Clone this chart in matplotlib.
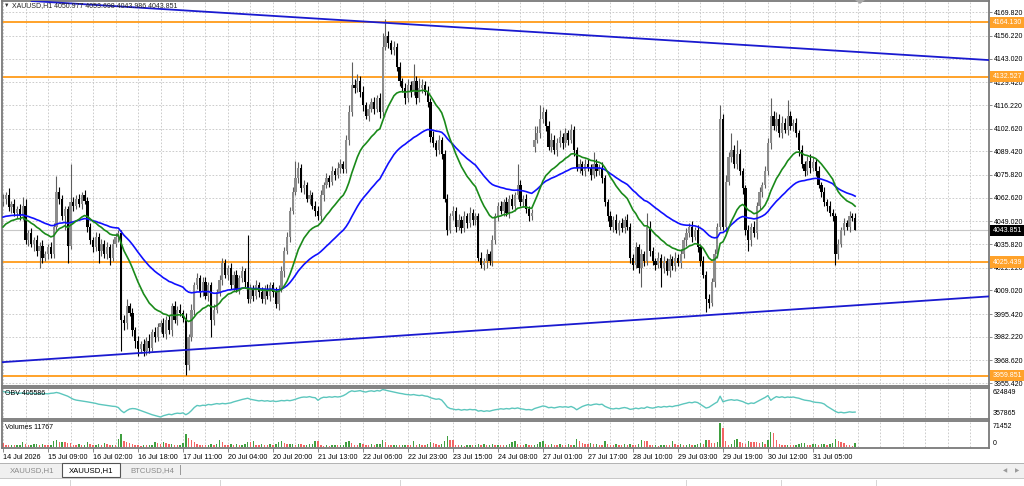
import matplotlib.pyplot as plt
import numpy as np
from matplotlib.patches import Rectangle, Polygon

# ---- data (XAUUSD H1, one value per bar) ----
closes = [
    4062, 4064, 4057, 4059, 4054, 4056, 4052, 4058,
    4038, 4042, 4036, 4038, 4032, 4035, 4028, 4030,
    4034, 4030, 4046, 4066, 4062, 4052, 4056, 4035,
    4060, 4058, 4062, 4059, 4064, 4061, 4046, 4038,
    4034, 4040, 4032, 4036, 4030, 4034, 4028, 4036,
    4040, 4042, 3992, 3990, 4000, 3996, 3986, 3980,
    3975, 3978, 3974, 3980, 3976, 3985, 3982, 3988,
    3990, 3984, 3992, 3986, 4000, 3992, 3998, 3996,
    3993, 3966, 3982, 3998, 4012, 4016, 4008, 4014,
    4006, 4012, 3992, 3998, 4008, 4015, 4025, 4018,
    4022, 4012, 4018, 4010, 4016, 4020, 4014, 4004,
    4010, 4006, 4012, 4008, 4004, 4010, 4006, 4012,
    4008, 4001, 4010, 4020, 4032, 4040, 4055, 4066,
    4074, 4080, 4068, 4070, 4062, 4064, 4058, 4055,
    4052, 4064, 4070, 4074, 4072, 4078, 4076, 4080,
    4082, 4079, 4096, 4112, 4128, 4126, 4130, 4124,
    4116, 4110, 4114, 4118, 4114, 4120, 4112, 4150,
    4156, 4152, 4148, 4150, 4138, 4130, 4126, 4120,
    4128, 4124, 4130, 4120, 4126, 4128, 4124, 4118,
    4098, 4094, 4090, 4096, 4088, 4062, 4044, 4052,
    4055, 4046, 4050, 4045, 4052, 4048, 4054, 4050,
    4052, 4028, 4024, 4026, 4030, 4026, 4038, 4052,
    4058, 4055, 4060, 4054, 4062, 4058, 4064, 4070,
    4060, 4062, 4056, 4052, 4054, 4096, 4100, 4108,
    4112, 4104, 4092, 4096, 4090, 4094, 4098, 4094,
    4100, 4096, 4102, 4090, 4080, 4082, 4078, 4082,
    4080, 4076, 4082, 4078, 4080, 4074, 4060, 4052,
    4046, 4050, 4044, 4048, 4045, 4050, 4046, 4028,
    4024, 4034, 4022, 4030, 4026, 4046, 4032, 4026,
    4024, 4028, 4022, 4026, 4020, 4027, 4023, 4028,
    4025, 4030, 4038, 4042, 4046, 4040, 4044, 4034,
    4026, 4018, 4004, 4002, 4014, 4030, 4046, 4108,
    4046, 4072, 4086, 4090, 4082, 4088, 4078, 4068,
    4044, 4038, 4046, 4042, 4058, 4066, 4070, 4078,
    4094, 4110, 4104, 4108, 4100, 4106, 4102, 4110,
    4104, 4106, 4100, 4090, 4082, 4078, 4084, 4080,
    4083, 4078, 4070, 4066, 4060, 4058, 4054, 4052,
    4030, 4036, 4044, 4048, 4046, 4052, 4050.977, 4043.851,
]
first_open = 4060
gap_bar, gap_open = 189, 4092   # weekend gap (Mon 27 Jul open)

upper_wick = [
    3, 2, 4, 2, 3, 2, 3, 5,   4, 2, 3, 2, 3, 2, 3, 2,
    2, 3, 2, 9, 3, 2, 2, 2,   22, 3, 2, 3, 2, 3, 2, 2,
    2, 3, 2, 3, 2, 3, 2, 3,   2, 2, 2, 3, 4, 2, 3, 2,
    3, 2, 3, 2, 4, 2, 3, 2,   2, 3, 2, 3, 2, 3, 2, 3,
    2, 3, 2, 3, 2, 3, 2, 3,   3, 2, 2, 3, 2, 3, 3, 2,
    2, 3, 2, 3, 2, 3, 2, 27,  3, 2, 3, 2, 3, 2, 3, 2,
    2, 3, 2, 3, 2, 3, 2, 3,   10, 3, 2, 3, 2, 3, 2, 3,
    3, 3, 2, 3, 2, 3, 2, 3,   3, 2, 3, 4, 13, 3, 4, 3,
    3, 2, 3, 2, 3, 2, 3, 8,   10, 3, 2, 3, 2, 3, 2, 3,
    3, 2, 10, 3, 6, 3, 2, 3,  2, 3, 2, 3, 2, 2, 3, 2,
    3, 2, 3, 2, 3, 2, 3, 2,   2, 2, 3, 2, 3, 2, 3, 2,
    2, 3, 2, 3, 2, 3, 2, 12,  3, 2, 3, 2, 2, 8, 4, 8,
    3, 2, 3, 4, 3, 3, 4, 2,   3, 2, 3, 2, 2, 3, 2, 3,
    3, 2, 7, 3, 2, 3, 2, 2,   3, 2, 3, 2, 3, 2, 3, 2,
    2, 3, 2, 3, 2, 8, 3, 2,   2, 3, 2, 3, 2, 3, 2, 3,
    2, 3, 2, 3, 2, 3, 2, 3,   2, 3, 2, 3, 2, 3, 2, 8,
    3, 4, 3, 10, 3, 8, 3, 2,  2, 3, 2, 3, 2, 3, 2, 3,
    3, 10, 3, 4, 3, 4, 3, 9,  3, 2, 3, 2, 3, 2, 3, 4,
    3, 2, 3, 2, 3, 2, 3, 2,   2, 3, 2, 3, 2, 3, 2, 2.7,
]
lower_wick = [
    2, 3, 2, 3, 2, 3, 2, 2,   2, 3, 2, 4, 3, 10, 3, 2,
    3, 2, 2, 2, 3, 2, 8, 10,  2, 3, 2, 2, 3, 2, 3, 2,
    3, 2, 7, 3, 2, 3, 4, 2,   2, 3, 18, 4, 3, 2, 3, 4,
    4, 2, 3, 2, 3, 2, 3, 2,   3, 2, 3, 2, 3, 2, 3, 2,
    2, 6, 3, 2, 3, 2, 3, 2,   2, 3, 10, 3, 2, 2, 3, 2,
    3, 2, 3, 2, 3, 2, 3, 2,   2, 3, 2, 3, 2, 3, 2, 3,
    3, 2, 3, 2, 3, 2, 3, 2,   2, 3, 2, 3, 2, 3, 2, 3,
    2, 2, 3, 2, 3, 2, 3, 2,   3, 2, 2, 3, 2, 3, 2, 3,
    3, 2, 3, 2, 3, 2, 3, 2,   2, 3, 2, 3, 2, 3, 2, 3,
    2, 3, 2, 3, 2, 3, 2, 3,   3, 2, 3, 2, 3, 2, 3, 2,
    2, 3, 2, 3, 2, 3, 2, 3,   3, 2, 2, 3, 4, 2, 3, 2,
    3, 2, 3, 2, 3, 2, 3, 2,   2, 3, 2, 3, 2, 3, 2, 3,
    2, 3, 2, 3, 2, 3, 2, 3,   2, 3, 2, 3, 2, 3, 2, 3,
    2, 3, 2, 3, 2, 3, 2, 3,   2, 3, 2, 3, 2, 3, 2, 3,
    3, 2, 3, 11, 3, 2, 3, 2,  3, 2, 11, 3, 2, 3, 2, 3,
    2, 3, 2, 3, 2, 3, 2, 3,   3, 2, 7.5, 3, 2, 3, 2, 2,
    2, 3, 2, 3, 2, 3, 2, 3,   3, 6, 3, 2, 3, 2, 3, 2,
    2, 3, 2, 3, 2, 3, 2, 3,   2, 3, 2, 3, 2, 3, 2, 3,
    2, 3, 2, 3, 2, 3, 2, 3,   6, 3, 2, 3, 2, 3, 2, 0,
]

volumes_k = [
    12.5, 7, 6.5, 7.5, 6, 7, 8, 15.5,   9, 7, 8, 9, 10, 8, 9, 7,
    7, 8, 17.5, 20.5, 15, 17, 15, 14,   12, 8, 7, 9, 6, 7, 17, 9,
    7, 8, 9, 7, 12, 10, 7, 8,           7, 25.5, 39, 17.5, 15.5, 12.5, 9, 7,
    6, 5, 8, 6, 7, 8, 15.5, 12.5,       10, 15.5, 12.5, 9, 10, 7, 6, 7,
    12, 39, 27.5, 22.5, 15.5, 9, 7, 6,  6, 8, 9, 7, 10, 22.5, 15.5, 8,
    7, 9, 8, 10, 7, 8, 9, 15.5,         15.5, 17.5, 8, 7, 9, 8, 7, 9,
    8, 10, 15.5, 17.5, 12.5, 9, 10, 11, 8, 10, 9, 7, 8, 9, 10, 19.5,
    17.5, 6, 5, 6, 5, 6, 7, 6,          7, 8, 15.5, 19.5, 12, 8, 7, 12,
    9, 8, 7, 10, 8, 9, 10, 21.5,        15.5, 8, 6, 7, 8, 6, 7, 8,
    8, 7, 19.5, 8, 9, 8, 7, 10,         14.5, 12, 9, 8, 10, 17.5, 32, 22.5,
    22.5, 8, 6, 7, 5, 6, 7, 6,          7, 9, 8, 10, 7, 8, 9, 7,
    8, 7, 6, 8, 9, 15.5, 17.5, 10,      8, 7, 9, 8, 7, 8, 10, 15.5,
    19.5, 9, 8, 10, 8, 7, 9, 8,         8, 9, 7, 8, 23.5, 17.5, 12, 10,
    10, 12, 9, 10, 8, 7, 17.5, 10,      8, 7, 9, 8, 6, 11, 8, 9,
    8, 7, 9, 20.5, 17.5, 17.5, 8, 6,    7, 5, 6, 8, 7, 6, 17.5, 9,
    8, 9, 7, 8, 9, 7, 8, 10,            11.5, 9, 21.5, 21.5, 12.5, 12, 15.5, 71.452,
    56.8, 17.5, 8, 10, 20.5, 24.5, 15.5, 14,  10, 17.5, 15.5, 15.5, 15.5, 12.5, 15, 9,
    20.5, 44, 41, 21.5, 10, 7, 6, 8,    7, 6, 8, 9, 12, 13, 8, 7,
    9, 10, 8, 9, 10, 8, 9, 12,          23.5, 17.5, 15.5, 12, 8, 6, 5, 11.767,
]

obv_k = [
    605, 600, 596, 592, 594, 590, 588, 592,   585, 590, 586, 588, 584, 586, 582, 585,
    583, 588, 590, 596, 590, 580, 570, 560,   545, 530, 522, 518, 515, 510, 505, 500,
    495, 490, 482, 478, 474, 470, 466, 462,   460, 450, 420, 400, 420, 435, 440, 438,
    430, 420, 410, 400, 390, 380, 372, 365,   357.865, 370, 378, 385, 380, 390, 395, 392,
    398, 380, 395, 420, 450, 470, 465, 472,   470, 480, 476, 482, 488, 484, 490, 486,
    490, 495, 505, 512, 520, 528, 534, 540,   530, 525, 520, 514, 518, 512, 516, 510,
    514, 508, 512, 518, 515, 520, 516, 522,   530, 540, 548, 552, 550, 556, 548, 545,
    520, 540, 550, 548, 554, 550, 556, 552,   556, 565, 580, 600, 612, 606, 610, 614,
    605, 600, 608, 612, 606, 615, 610, 624.849, 618, 612, 606, 600, 594, 588, 584, 578,
    575, 572, 576, 570, 566, 570, 562, 558,   545, 538, 530, 534, 522, 490, 455, 440,
    435, 428, 432, 424, 430, 426, 432, 428,   430, 415, 420, 412, 418, 414, 422, 428,
    432, 438, 434, 440, 436, 444, 440, 446,   438, 434, 428, 430, 425, 440, 448, 455,
    465, 460, 448, 452, 446, 452, 458, 454,   458, 452, 460, 448, 428, 445, 460, 470,
    478, 472, 480, 484, 478, 482, 462, 450,   440, 436, 442, 438, 445, 450, 444, 432,
    436, 444, 438, 446, 442, 456, 448, 444,   450, 458, 452, 460, 456, 462, 458, 466,
    470, 478, 486, 492, 500, 496, 504, 498,   480, 462, 445, 452, 470, 488, 504, 560,
    505, 515, 522, 526, 520, 524, 516, 508,   495, 485, 494, 490, 505, 520, 534, 548,
    566, 520, 540, 556, 548, 554, 546, 552,   548, 552, 545, 540, 530, 522, 518, 514,
    505, 500, 498, 494, 484, 462, 445, 428,   412, 400, 404, 398, 402, 408, 404, 405.586,
]

# moving averages: periods and their values at the left edge of the chart
ma_fast_period, ma_fast_start = 20, 4044
ma_slow_period, ma_slow_start = 50, 4051

levels = [4164.130, 4132.527, 4025.439, 3959.851]
bid = 4043.851
upper_trend = [(10.7, 4176.3), (350.6, 4142.2)]
lower_trend = [(-1.07, 3967.5), (350.6, 4005.6)]

price_ticks = [4169.820, 4156.220, 4143.020, 4129.420, 4116.220, 4102.620,
               4089.420, 4075.820, 4062.620, 4049.020, 4035.820, 4022.220,
               4009.020, 3995.420, 3982.220, 3968.620, 3955.420]
date_labels = ['14 Jul 2026', '15 Jul 09:00', '16 Jul 02:00', '16 Jul 18:00',
               '17 Jul 11:00', '20 Jul 04:00', '20 Jul 20:00', '21 Jul 13:00',
               '22 Jul 06:00', '22 Jul 23:00', '23 Jul 15:00', '24 Jul 08:00',
               '27 Jul 01:00', '27 Jul 17:00', '28 Jul 10:00', '29 Jul 03:00',
               '29 Jul 19:00', '30 Jul 12:00', '31 Jul 05:00']
header = 'XAUUSD,H1 4050.977 4053.698 4043.986 4043.851'
tabs = ['XAUUSD,H1', 'XAUUSD,H1', 'BTCUSD,H4']

# ---- derived series ----
c = np.array(closes, dtype=float)
n = len(c)
o = np.concatenate([[first_open], c[:-1]])
o[gap_bar] = gap_open
hi = np.maximum(o, c) + np.array(upper_wick)
lo = np.minimum(o, c) - np.array(lower_wick)
vol = np.array(volumes_k) * 1000
obv = np.array(obv_k) * 1000
idx = np.arange(n)


def ema(values, period, seed):
    k = 2.0 / (period + 1)
    out, prev = [], seed
    for v in values:
        prev = prev + k * (v - prev)
        out.append(prev)
    return np.array(out)


ma_fast = ema(c, ma_fast_period, ma_fast_start)
ma_slow = ema(c, ma_slow_period, ma_slow_start)

# ---- figure ----
W, H = 1024, 486
fig = plt.figure(figsize=(W / 100, H / 100), dpi=100)
fig.patch.set_facecolor('white')
FONT = ['Liberation Sans Narrow', 'Liberation Sans', 'DejaVu Sans']
FS = 5.0
GRID = '#c4c4c4'
SPINE = '#7a7a7a'
XR = (-0.36, 350.6)


def pane(x0, y0, x1, y1):
    a = fig.add_axes([x0 / W, 1 - y1 / H, (x1 - x0) / W, (y1 - y0) / H])
    a.set_xlim(*XR)
    a.set_facecolor('white')
    for s in a.spines.values():
        s.set_color(SPINE)
        s.set_linewidth(1.3)
    a.tick_params(axis='both', colors=SPINE, labelcolor='black', length=2.5,
                  width=0.6, labelsize=FS, pad=1)
    a.set_xticks([])
    a.set_yticks([])
    a.vlines(np.arange(0, XR[1], 8), -1e9, 1e9, colors=GRID, lw=0.6,
             linestyles=(0, (2, 2)), zorder=0)
    return a


def frect(x0, y0, x1, y1, **kw):
    fig.add_artist(Rectangle((x0 / W, 1 - y1 / H), (x1 - x0) / W, (y1 - y0) / H,
                             transform=fig.transFigure, **kw))


def ftext(x, y, s, **kw):
    fig.text(x / W, 1 - y / H, s, family=FONT, **kw)


# main price pane
ax = pane(2, 1, 989, 385.5)
ax.set_ylim(3954.1, 4176.35)
ax.hlines(price_ticks, *XR, colors=GRID, lw=0.6, linestyles=(0, (2, 2)), zorder=0)
ax.yaxis.tick_right()
ax.set_yticks(price_ticks)
ax.set_yticklabels([f'{p:.3f}' for p in price_ticks], family=FONT, fontsize=FS)

ax.axhline(bid, color='#c8c8c8', lw=0.8, zorder=1)
for lv in levels:
    ax.axhline(lv, color='#ffa22a', lw=1.4, zorder=2)
ax.axline(*upper_trend, color='#1a1ad0', lw=1.3, zorder=6)
ax.axline(*lower_trend, color='#1a1ad0', lw=1.3, zorder=6)

up = c >= o
ax.vlines(idx, lo, hi, colors=np.where(up, '#5e5e5e', '#000000'), lw=0.8, zorder=3)
body_h = np.maximum(np.abs(c - o), 0.7)
ax.bar(idx, body_h, bottom=np.minimum(o, c), width=0.8,
       color=np.where(up, '#8c8c8c', '#000000'), lw=0, zorder=4)

ax.plot(idx, ma_slow, color='#1010ff', lw=1.2, zorder=5)
ax.plot(idx, ma_fast, color='#1a8a1a', lw=1.2, zorder=5)

yt = ax.get_yaxis_transform()
for lv in levels:
    ax.text(1.0035, lv, f'{lv:.3f}', transform=yt, ha='left', va='center',
            color='white', fontsize=FS, family=FONT, zorder=10, clip_on=False,
            bbox=dict(boxstyle='square,pad=0.3', fc='#ffa22a', ec='none'))
ax.text(1.0035, bid, f'{bid:.3f}', transform=yt, ha='left', va='center',
        color='white', fontsize=FS, family=FONT, zorder=10, clip_on=False,
        bbox=dict(boxstyle='square,pad=0.3', fc='black', ec='none'))

# OBV pane
ax_obv = pane(2, 387.5, 989, 419.3)
ax_obv.set_ylim(335535, 644266)
ax_obv.plot(idx, obv, color='#5cc6bd', lw=1.0)
ot = ax_obv.get_yaxis_transform()
ax_obv.text(1.004, obv.max(), f'{obv.max():.0f}', transform=ot, ha='left', va='top',
            fontsize=FS, family=FONT)
ax_obv.text(1.004, obv.min(), f'{obv.min():.0f}', transform=ot, ha='left',
            va='bottom', fontsize=FS, family=FONT)

# Volumes pane
ax_vol = pane(2, 420.5, 989, 448)
ax_vol.set_ylim(-2058, 78803)
vol_up = np.concatenate([[False], vol[1:] > vol[:-1]])
ax_vol.bar(idx, vol, width=0.5, color=np.where(vol_up, '#3f9f3f', '#f26464'), lw=0)
vt = ax_vol.get_yaxis_transform()
ax_vol.text(1.004, vol.max(), f'{vol.max():.0f}', transform=vt, ha='left', va='top',
            fontsize=FS, family=FONT)
ax_vol.text(1.004, 0, '0', transform=vt, ha='left', va='bottom',
            fontsize=FS, family=FONT)
ax_vol.set_xticks(np.arange(len(date_labels)) * 16)
ax_vol.set_xticklabels(date_labels, family=FONT, fontsize=5.2)
for t in ax_vol.get_xticklabels():
    t.set_ha('left')
ax_vol.tick_params(axis='x', length=3, pad=1.5)

# header and pane captions
ftext(3.5, 5.5, '\u25bc', fontsize=4, va='center', color='#333333')
ftext(12, 5.5, header, fontsize=FS, va='center', color='#222222')
ftext(5, 393, f'OBV {obv[-1]:.0f}', fontsize=FS, va='center')
ftext(5, 427, f'Volumes {vol[-1]:.0f}', fontsize=FS, va='center')
fig.add_artist(Polygon([(855 / W, 1.0), (865 / W, 1.0), (860 / W, 1 - 4 / H)],
                       closed=True, transform=fig.transFigure, fc='#a8a8a8', ec='none'))

# tab strip and status bar
frect(0, 462.5, W, 478, fc='#f0f0f0', ec='none')
frect(0, 462.5, W, 463.5, fc='#b4b4b4', ec='none')
frect(62, 463, 120, 477, fc='white', ec='#555555', lw=0.8)
tab_x = [10, 69, 130]
for tx, name, col in zip(tab_x, tabs, ['#8a8a8a', 'black', '#8a8a8a']):
    ftext(tx, 470.5, name, fontsize=5.6, va='center', color=col)
frect(180, 465, 180.8, 475, fc='#9a9a9a', ec='none')
frect(0, 478, W, 479, fc='#c8c8c8', ec='none')
for sx in [70, 220, 400, 686, 781, 876]:
    frect(sx, 480, sx + 0.8, 486, fc='#d6d6d6', ec='none')
ftext(1005, 470.5, '\u25c0', fontsize=4, va='center', ha='center', color='#9a9a9a')
ftext(1017, 470.5, '\u25b6', fontsize=4, va='center', ha='center', color='#9a9a9a')

fig.savefig('out.png', dpi=100, facecolor='white')
